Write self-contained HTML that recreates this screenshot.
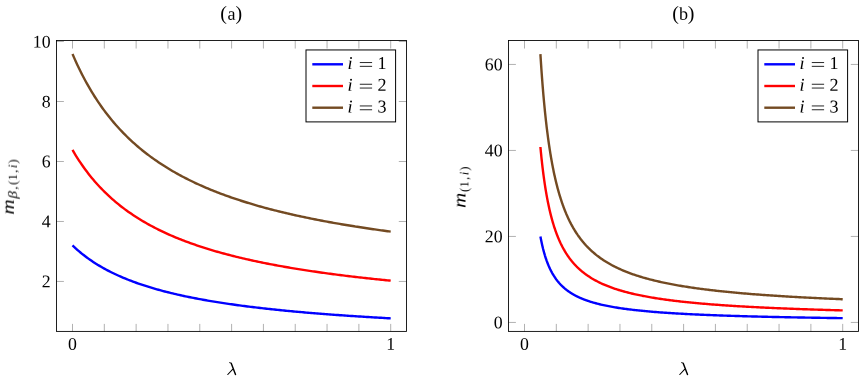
<!DOCTYPE html>
<html><head><meta charset="utf-8"><title>plot</title>
<style>
html,body{margin:0;padding:0;background:#fff;}
body{width:859px;height:381px;overflow:hidden;}
svg{display:block;}
.t{font-family:"Liberation Serif",serif;font-size:18.1px;fill:#000;text-rendering:geometricPrecision;}
.d{font-size:17.8px;}
.p{font-size:20px;}
.i{font-style:italic;}
.s{font-size:12.7px;}
</style></head><body>
<svg width="859" height="381" viewBox="0 0 859 381">
<rect width="100%" height="100%" fill="#fff"/>
<g opacity="0.999">
<path d="M72.50,331.40v-7.5 M72.50,40.45v8.1 M104.32,331.40v-7.5 M104.32,40.45v8.1 M136.14,331.40v-7.5 M136.14,40.45v8.1 M167.96,331.40v-7.5 M167.96,40.45v8.1 M199.78,331.40v-7.5 M199.78,40.45v8.1 M231.60,331.40v-7.5 M231.60,40.45v8.1 M263.42,331.40v-7.5 M263.42,40.45v8.1 M295.24,331.40v-7.5 M295.24,40.45v8.1 M327.06,331.40v-7.5 M327.06,40.45v8.1 M358.88,331.40v-7.5 M358.88,40.45v8.1 M390.70,331.40v-7.5 M390.70,40.45v8.1 M56.50,281.45h7.4 M406.50,281.45h-7.7 M56.50,221.47h7.4 M406.50,221.47h-7.7 M56.50,161.49h7.4 M406.50,161.49h-7.7 M56.50,101.51h7.4 M406.50,101.51h-7.7 M56.50,41.53h7.4 M406.50,41.53h-7.7 " stroke="#808080" stroke-width="0.62" fill="none"/>
<rect x="56.50" y="40.45" width="350.00" height="290.95" fill="none" stroke="#000" stroke-width="0.88"/>
<text x="72.50" y="349.7" class="t d" text-anchor="middle" transform="rotate(0.03 72.50 349.7)">0</text>
<text x="390.70" y="349.7" class="t d" text-anchor="middle" transform="rotate(0.03 390.70 349.7)">1</text>
<text x="50.60" y="287.35" class="t d" text-anchor="end" transform="rotate(0.03 50.60 287.35)">2</text>
<text x="50.60" y="227.37" class="t d" text-anchor="end" transform="rotate(0.03 50.60 227.37)">4</text>
<text x="50.60" y="167.39" class="t d" text-anchor="end" transform="rotate(0.03 50.60 167.39)">6</text>
<text x="50.60" y="107.41" class="t d" text-anchor="end" transform="rotate(0.03 50.60 107.41)">8</text>
<text x="50.60" y="47.43" class="t d" text-anchor="end" transform="rotate(0.03 50.60 47.43)">10</text>
<g transform="translate(0.00,0)" fill="none" stroke="#000" stroke-linecap="round"><path d="M229.5,362.5 Q230.7,362.1 231.3,363.5" stroke-width="0.8"/><path d="M231.2,363.3 L235.5,374.5" stroke-width="1.45"/><path d="M232.6,369.3 L227.8,374.5" stroke-width="1.1"/></g>
<path d="M72.50,245.44 L74.09,246.94 L75.68,248.40 L77.27,249.81 L78.86,251.18 L80.45,252.51 L82.05,253.81 L83.64,255.06 L85.23,256.28 L86.82,257.47 L88.41,258.62 L90.00,259.74 L91.59,260.83 L93.18,261.89 L94.77,262.93 L96.36,263.94 L97.96,264.92 L99.55,265.88 L101.14,266.81 L102.73,267.72 L104.32,268.61 L105.91,269.48 L107.50,270.33 L109.09,271.15 L110.68,271.96 L112.28,272.75 L113.87,273.52 L115.46,274.28 L117.05,275.02 L118.64,275.74 L120.23,276.44 L121.82,277.14 L123.41,277.81 L125.00,278.48 L126.59,279.12 L128.19,279.76 L129.78,280.38 L131.37,280.99 L132.96,281.59 L134.55,282.18 L136.14,282.75 L137.73,283.32 L139.32,283.87 L140.91,284.41 L142.50,284.94 L144.09,285.47 L145.69,285.98 L147.28,286.48 L148.87,286.98 L150.46,287.46 L152.05,287.94 L153.64,288.41 L155.23,288.87 L156.82,289.32 L158.41,289.77 L160.00,290.20 L161.60,290.63 L163.19,291.06 L164.78,291.47 L166.37,291.88 L167.96,292.28 L169.55,292.68 L171.14,293.07 L172.73,293.45 L174.32,293.83 L175.92,294.20 L177.51,294.56 L179.10,294.92 L180.69,295.28 L182.28,295.63 L183.87,295.97 L185.46,296.31 L187.05,296.64 L188.64,296.97 L190.23,297.29 L191.82,297.61 L193.42,297.93 L195.01,298.24 L196.60,298.54 L198.19,298.84 L199.78,299.14 L201.37,299.43 L202.96,299.72 L204.55,300.01 L206.14,300.29 L207.73,300.56 L209.33,300.84 L210.92,301.11 L212.51,301.37 L214.10,301.64 L215.69,301.90 L217.28,302.15 L218.87,302.40 L220.46,302.65 L222.05,302.90 L223.65,303.14 L225.24,303.38 L226.83,303.62 L228.42,303.85 L230.01,304.08 L231.60,304.31 L233.19,304.54 L234.78,304.76 L236.37,304.98 L237.96,305.20 L239.56,305.41 L241.15,305.62 L242.74,305.83 L244.33,306.04 L245.92,306.24 L247.51,306.45 L249.10,306.65 L250.69,306.85 L252.28,307.04 L253.87,307.23 L255.47,307.43 L257.06,307.61 L258.65,307.80 L260.24,307.99 L261.83,308.17 L263.42,308.35 L265.01,308.53 L266.60,308.71 L268.19,308.88 L269.78,309.05 L271.38,309.22 L272.97,309.39 L274.56,309.56 L276.15,309.73 L277.74,309.89 L279.33,310.05 L280.92,310.22 L282.51,310.37 L284.10,310.53 L285.69,310.69 L287.28,310.84 L288.88,310.99 L290.47,311.15 L292.06,311.30 L293.65,311.44 L295.24,311.59 L296.83,311.74 L298.42,311.88 L300.01,312.02 L301.60,312.16 L303.19,312.30 L304.79,312.44 L306.38,312.58 L307.97,312.71 L309.56,312.85 L311.15,312.98 L312.74,313.11 L314.33,313.25 L315.92,313.38 L317.51,313.50 L319.11,313.63 L320.70,313.76 L322.29,313.88 L323.88,314.01 L325.47,314.13 L327.06,314.25 L328.65,314.37 L330.24,314.49 L331.83,314.61 L333.42,314.73 L335.01,314.84 L336.61,314.96 L338.20,315.07 L339.79,315.18 L341.38,315.30 L342.97,315.41 L344.56,315.52 L346.15,315.63 L347.74,315.74 L349.33,315.84 L350.93,315.95 L352.52,316.06 L354.11,316.16 L355.70,316.26 L357.29,316.37 L358.88,316.47 L360.47,316.57 L362.06,316.67 L363.65,316.77 L365.24,316.87 L366.83,316.97 L368.43,317.07 L370.02,317.16 L371.61,317.26 L373.20,317.35 L374.79,317.45 L376.38,317.54 L377.97,317.64 L379.56,317.73 L381.15,317.82 L382.75,317.91 L384.34,318.00 L385.93,318.09 L387.52,318.18 L389.11,318.27 L390.70,318.35" stroke="#0000ff" stroke-width="2.4" fill="none" stroke-linejoin="round"/>
<path d="M72.50,149.93 L74.09,152.64 L75.68,155.27 L77.27,157.82 L78.86,160.28 L80.45,162.68 L82.05,165.01 L83.64,167.27 L85.23,169.46 L86.82,171.59 L88.41,173.67 L90.00,175.68 L91.59,177.65 L93.18,179.56 L94.77,181.42 L96.36,183.23 L97.96,185.00 L99.55,186.72 L101.14,188.40 L102.73,190.03 L104.32,191.63 L105.91,193.19 L107.50,194.71 L109.09,196.20 L110.68,197.65 L112.28,199.07 L113.87,200.45 L115.46,201.81 L117.05,203.13 L118.64,204.43 L120.23,205.70 L121.82,206.94 L123.41,208.15 L125.00,209.34 L126.59,210.51 L128.19,211.65 L129.78,212.76 L131.37,213.86 L132.96,214.93 L134.55,215.98 L136.14,217.01 L137.73,218.02 L139.32,219.01 L140.91,219.99 L142.50,220.94 L144.09,221.88 L145.69,222.80 L147.28,223.70 L148.87,224.59 L150.46,225.46 L152.05,226.31 L153.64,227.15 L155.23,227.97 L156.82,228.78 L158.41,229.58 L160.00,230.36 L161.60,231.13 L163.19,231.89 L164.78,232.63 L166.37,233.37 L167.96,234.09 L169.55,234.79 L171.14,235.49 L172.73,236.18 L174.32,236.85 L175.92,237.52 L177.51,238.17 L179.10,238.81 L180.69,239.45 L182.28,240.07 L183.87,240.69 L185.46,241.29 L187.05,241.89 L188.64,242.48 L190.23,243.06 L191.82,243.63 L193.42,244.19 L195.01,244.74 L196.60,245.29 L198.19,245.83 L199.78,246.36 L201.37,246.88 L202.96,247.40 L204.55,247.91 L206.14,248.41 L207.73,248.91 L209.33,249.39 L210.92,249.88 L212.51,250.35 L214.10,250.82 L215.69,251.29 L217.28,251.74 L218.87,252.19 L220.46,252.64 L222.05,253.08 L223.65,253.51 L225.24,253.94 L226.83,254.37 L228.42,254.78 L230.01,255.20 L231.60,255.60 L233.19,256.01 L234.78,256.41 L236.37,256.80 L237.96,257.19 L239.56,257.57 L241.15,257.95 L242.74,258.32 L244.33,258.69 L245.92,259.06 L247.51,259.42 L249.10,259.78 L250.69,260.13 L252.28,260.48 L253.87,260.83 L255.47,261.17 L257.06,261.51 L258.65,261.84 L260.24,262.17 L261.83,262.50 L263.42,262.82 L265.01,263.14 L266.60,263.46 L268.19,263.77 L269.78,264.08 L271.38,264.38 L272.97,264.69 L274.56,264.99 L276.15,265.28 L277.74,265.58 L279.33,265.87 L280.92,266.15 L282.51,266.44 L284.10,266.72 L285.69,267.00 L287.28,267.27 L288.88,267.55 L290.47,267.82 L292.06,268.08 L293.65,268.35 L295.24,268.61 L296.83,268.87 L298.42,269.13 L300.01,269.38 L301.60,269.63 L303.19,269.88 L304.79,270.13 L306.38,270.37 L307.97,270.62 L309.56,270.86 L311.15,271.09 L312.74,271.33 L314.33,271.56 L315.92,271.80 L317.51,272.02 L319.11,272.25 L320.70,272.48 L322.29,272.70 L323.88,272.92 L325.47,273.14 L327.06,273.36 L328.65,273.57 L330.24,273.78 L331.83,274.00 L333.42,274.21 L335.01,274.41 L336.61,274.62 L338.20,274.82 L339.79,275.02 L341.38,275.22 L342.97,275.42 L344.56,275.62 L346.15,275.82 L347.74,276.01 L349.33,276.20 L350.93,276.39 L352.52,276.58 L354.11,276.77 L355.70,276.95 L357.29,277.14 L358.88,277.32 L360.47,277.50 L362.06,277.68 L363.65,277.86 L365.24,278.03 L366.83,278.21 L368.43,278.38 L370.02,278.56 L371.61,278.73 L373.20,278.90 L374.79,279.07 L376.38,279.23 L377.97,279.40 L379.56,279.56 L381.15,279.73 L382.75,279.89 L384.34,280.05 L385.93,280.21 L387.52,280.37 L389.11,280.52 L390.70,280.68" stroke="#ff0000" stroke-width="2.4" fill="none" stroke-linejoin="round"/>
<path d="M72.50,53.94 L74.09,57.63 L75.68,61.20 L77.27,64.66 L78.86,68.02 L80.45,71.27 L82.05,74.44 L83.64,77.51 L85.23,80.49 L86.82,83.39 L88.41,86.21 L90.00,88.95 L91.59,91.61 L93.18,94.21 L94.77,96.74 L96.36,99.20 L97.96,101.60 L99.55,103.94 L101.14,106.22 L102.73,108.45 L104.32,110.62 L105.91,112.74 L107.50,114.81 L109.09,116.83 L110.68,118.80 L112.28,120.73 L113.87,122.61 L115.46,124.45 L117.05,126.25 L118.64,128.01 L120.23,129.74 L121.82,131.42 L123.41,133.07 L125.00,134.69 L126.59,136.27 L128.19,137.82 L129.78,139.34 L131.37,140.83 L132.96,142.28 L134.55,143.71 L136.14,145.11 L137.73,146.49 L139.32,147.83 L140.91,149.16 L142.50,150.45 L144.09,151.72 L145.69,152.97 L147.28,154.20 L148.87,155.40 L150.46,156.59 L152.05,157.75 L153.64,158.89 L155.23,160.01 L156.82,161.11 L158.41,162.19 L160.00,163.26 L161.60,164.30 L163.19,165.33 L164.78,166.34 L166.37,167.34 L167.96,168.31 L169.55,169.28 L171.14,170.22 L172.73,171.16 L174.32,172.07 L175.92,172.97 L177.51,173.86 L179.10,174.74 L180.69,175.60 L182.28,176.45 L183.87,177.28 L185.46,178.11 L187.05,178.92 L188.64,179.71 L190.23,180.50 L191.82,181.28 L193.42,182.04 L195.01,182.79 L196.60,183.54 L198.19,184.27 L199.78,184.99 L201.37,185.70 L202.96,186.40 L204.55,187.09 L206.14,187.78 L207.73,188.45 L209.33,189.11 L210.92,189.77 L212.51,190.42 L214.10,191.05 L215.69,191.68 L217.28,192.30 L218.87,192.92 L220.46,193.52 L222.05,194.12 L223.65,194.71 L225.24,195.29 L226.83,195.87 L228.42,196.44 L230.01,197.00 L231.60,197.55 L233.19,198.10 L234.78,198.64 L236.37,199.17 L237.96,199.70 L239.56,200.22 L241.15,200.74 L242.74,201.25 L244.33,201.75 L245.92,202.25 L247.51,202.74 L249.10,203.22 L250.69,203.70 L252.28,204.18 L253.87,204.65 L255.47,205.11 L257.06,205.57 L258.65,206.03 L260.24,206.47 L261.83,206.92 L263.42,207.36 L265.01,207.79 L266.60,208.22 L268.19,208.64 L269.78,209.06 L271.38,209.48 L272.97,209.89 L274.56,210.30 L276.15,210.70 L277.74,211.10 L279.33,211.49 L280.92,211.88 L282.51,212.27 L284.10,212.65 L285.69,213.03 L287.28,213.40 L288.88,213.78 L290.47,214.14 L292.06,214.51 L293.65,214.87 L295.24,215.22 L296.83,215.57 L298.42,215.92 L300.01,216.27 L301.60,216.61 L303.19,216.95 L304.79,217.29 L306.38,217.62 L307.97,217.95 L309.56,218.27 L311.15,218.60 L312.74,218.92 L314.33,219.24 L315.92,219.55 L317.51,219.86 L319.11,220.17 L320.70,220.48 L322.29,220.78 L323.88,221.08 L325.47,221.38 L327.06,221.67 L328.65,221.96 L330.24,222.25 L331.83,222.54 L333.42,222.82 L335.01,223.11 L336.61,223.38 L338.20,223.66 L339.79,223.94 L341.38,224.21 L342.97,224.48 L344.56,224.75 L346.15,225.01 L347.74,225.27 L349.33,225.54 L350.93,225.79 L352.52,226.05 L354.11,226.30 L355.70,226.56 L357.29,226.81 L358.88,227.05 L360.47,227.30 L362.06,227.54 L363.65,227.79 L365.24,228.03 L366.83,228.26 L368.43,228.50 L370.02,228.73 L371.61,228.97 L373.20,229.20 L374.79,229.43 L376.38,229.65 L377.97,229.88 L379.56,230.10 L381.15,230.32 L382.75,230.54 L384.34,230.76 L385.93,230.98 L387.52,231.19 L389.11,231.41 L390.70,231.62" stroke="#734a22" stroke-width="2.4" fill="none" stroke-linejoin="round"/>
<rect x="306.00" y="49.95" width="89.60" height="71.95" fill="#fff" stroke="#000" stroke-width="1.0"/>
<path d="M312.30,64.30H343.00" stroke="#0000ff" stroke-width="2.4"/>
<text x="347.60" y="69.00" class="t" transform="rotate(0.03 347.60 69.00)"><tspan class="i">i</tspan><tspan x="377.50">1</tspan></text>
<path d="M359.80,62.55h12.3 M359.80,66.35h12.3" stroke="#000" stroke-width="0.85"/>
<path d="M312.30,86.00H343.00" stroke="#ff0000" stroke-width="2.4"/>
<text x="347.60" y="90.70" class="t" transform="rotate(0.03 347.60 90.70)"><tspan class="i">i</tspan><tspan x="377.50">2</tspan></text>
<path d="M359.80,84.25h12.3 M359.80,88.05h12.3" stroke="#000" stroke-width="0.85"/>
<path d="M312.30,107.70H343.00" stroke="#734a22" stroke-width="2.4"/>
<text x="347.60" y="112.40" class="t" transform="rotate(0.03 347.60 112.40)"><tspan class="i">i</tspan><tspan x="377.50">3</tspan></text>
<path d="M359.80,105.95h12.3 M359.80,109.75h12.3" stroke="#000" stroke-width="0.85"/>
<g transform="rotate(0.03 231.50 19.7)"><text x="220.30" y="19.7" class="t p">(</text><text x="231.50" y="19.7" class="t" text-anchor="middle">a</text><text x="242.10" y="19.7" class="t p" text-anchor="end">)</text></g>
<g transform="translate(13.9,214.6) rotate(-90)"><text x="0" y="0" class="t i" transform="scale(1.17,1)">m</text><text x="19.90" y="2.90" class="t s i" text-anchor="middle" transform="translate(19.90,0) scale(1.2,1) translate(-19.90,0)">β</text><text x="26.60" y="2.90" class="t s" text-anchor="middle">,</text><text x="31.90" y="2.90" class="t s" text-anchor="middle">(</text><text x="37.30" y="2.90" class="t s" text-anchor="middle">1</text><text x="43.40" y="2.90" class="t s" text-anchor="middle">,</text><text x="48.20" y="2.90" class="t s i" text-anchor="middle">i</text><text x="53.10" y="2.90" class="t s" text-anchor="middle">)</text></g>
<path d="M524.50,331.40v-7.5 M524.50,40.45v8.1 M556.32,331.40v-7.5 M556.32,40.45v8.1 M588.14,331.40v-7.5 M588.14,40.45v8.1 M619.96,331.40v-7.5 M619.96,40.45v8.1 M651.78,331.40v-7.5 M651.78,40.45v8.1 M683.60,331.40v-7.5 M683.60,40.45v8.1 M715.42,331.40v-7.5 M715.42,40.45v8.1 M747.24,331.40v-7.5 M747.24,40.45v8.1 M779.06,331.40v-7.5 M779.06,40.45v8.1 M810.88,331.40v-7.5 M810.88,40.45v8.1 M842.70,331.40v-7.5 M842.70,40.45v8.1 M508.50,322.45h7.4 M858.50,322.45h-7.7 M508.50,236.45h7.4 M858.50,236.45h-7.7 M508.50,150.45h7.4 M858.50,150.45h-7.7 M508.50,64.45h7.4 M858.50,64.45h-7.7 " stroke="#808080" stroke-width="0.62" fill="none"/>
<rect x="508.50" y="40.45" width="350.00" height="290.95" fill="none" stroke="#000" stroke-width="0.88"/>
<text x="524.50" y="349.7" class="t d" text-anchor="middle" transform="rotate(0.03 524.50 349.7)">0</text>
<text x="842.70" y="349.7" class="t d" text-anchor="middle" transform="rotate(0.03 842.70 349.7)">1</text>
<text x="502.60" y="328.35" class="t d" text-anchor="end" transform="rotate(0.03 502.60 328.35)">0</text>
<text x="502.60" y="242.35" class="t d" text-anchor="end" transform="rotate(0.03 502.60 242.35)">20</text>
<text x="502.60" y="156.35" class="t d" text-anchor="end" transform="rotate(0.03 502.60 156.35)">40</text>
<text x="502.60" y="70.35" class="t d" text-anchor="end" transform="rotate(0.03 502.60 70.35)">60</text>
<g transform="translate(452.00,0)" fill="none" stroke="#000" stroke-linecap="round"><path d="M229.5,362.5 Q230.7,362.1 231.3,363.5" stroke-width="0.8"/><path d="M231.2,363.3 L235.5,374.5" stroke-width="1.45"/><path d="M232.6,369.3 L227.8,374.5" stroke-width="1.1"/></g>
<path d="M540.41,236.45 L540.57,237.30 L540.73,238.14 L540.89,238.95 L541.05,239.76 L541.21,240.55 L541.36,241.32 L541.52,242.08 L541.68,242.82 L541.84,243.55 L542.00,244.27 L542.16,244.97 L542.32,245.66 L542.48,246.34 L542.64,247.01 L542.80,247.67 L542.96,248.31 L543.11,248.95 L543.27,249.57 L543.43,250.18 L543.59,250.78 L543.75,251.38 L543.91,251.96 L544.07,252.53 L544.23,253.10 L544.39,253.65 L544.55,254.20 L544.71,254.73 L544.86,255.26 L545.02,255.78 L545.18,256.30 L545.34,256.80 L545.50,257.30 L545.66,257.79 L545.82,258.27 L545.98,258.75 L546.14,259.21 L546.30,259.68 L546.46,260.13 L546.61,260.58 L546.77,261.02 L546.93,261.46 L547.09,261.89 L547.25,262.31 L547.41,262.73 L547.57,263.14 L547.73,263.55 L547.89,263.95 L548.05,264.34 L548.21,264.73 L548.37,265.12 L548.52,265.50 L548.68,265.87 L548.84,266.24 L549.00,266.61 L549.16,266.97 L549.32,267.32 L549.48,267.67 L549.64,268.02 L549.80,268.36 L549.96,268.70 L550.12,269.03 L550.27,269.36 L550.43,269.69 L550.59,270.01 L550.75,270.33 L550.91,270.64 L551.07,270.95 L551.23,271.26 L551.39,271.56 L551.55,271.86 L551.71,272.16 L551.87,272.45 L552.02,272.74 L552.18,273.02 L552.34,273.31 L552.50,273.59 L552.66,273.86 L552.82,274.14 L552.98,274.41 L553.14,274.67 L553.30,274.94 L553.46,275.20 L553.62,275.46 L553.77,275.71 L553.93,275.96 L554.09,276.21 L554.25,276.46 L554.41,276.71 L554.57,276.95 L554.73,277.19 L554.89,277.42 L555.05,277.66 L555.21,277.89 L555.37,278.12 L555.52,278.35 L555.68,278.57 L555.84,278.80 L556.00,279.02 L556.16,279.23 L556.32,279.45 L556.48,279.66 L556.64,279.88 L556.80,280.09 L556.96,280.29 L557.12,280.50 L557.27,280.70 L557.43,280.90 L557.59,281.10 L557.75,281.30 L557.91,281.50 L558.07,281.69 L558.23,281.88 L558.39,282.07 L558.55,282.26 L558.71,282.45 L558.87,282.64 L559.02,282.82 L559.18,283.00 L559.34,283.18 L559.50,283.36 L559.66,283.54 L559.82,283.71 L559.98,283.88 L560.14,284.06 L560.30,284.23 L560.46,284.40 L560.62,284.56 L560.77,284.73 L560.93,284.90 L561.09,285.06 L561.25,285.22 L561.41,285.38 L561.57,285.54 L561.73,285.70 L561.89,285.85 L562.05,286.01 L562.21,286.16 L562.37,286.32 L562.52,286.47 L562.68,286.62 L562.84,286.77 L563.00,286.91 L563.16,287.06 L563.32,287.20 L563.48,287.35 L563.64,287.49 L563.80,287.63 L563.96,287.77 L564.12,287.91 L564.27,288.05 L564.43,288.19 L564.59,288.32 L564.75,288.46 L564.91,288.59 L565.07,288.72 L565.23,288.86 L565.39,288.99 L565.55,289.12 L565.71,289.25 L565.87,289.37 L566.03,289.50 L566.18,289.63 L566.34,289.75 L566.50,289.87 L566.66,290.00 L566.82,290.12 L566.98,290.24 L567.14,290.36 L567.30,290.48 L567.46,290.60 L567.62,290.72 L567.78,290.83 L567.93,290.95 L568.09,291.06 L568.25,291.18 L568.41,291.29 L568.57,291.40 L568.73,291.51 L568.89,291.63 L569.05,291.74 L569.21,291.85 L569.37,291.95 L569.53,292.06 L569.68,292.17 L569.84,292.27 L570.00,292.38 L570.16,292.48 L570.32,292.59 L570.48,292.69 L570.64,292.79 L570.80,292.90 L570.96,293.00 L571.12,293.10 L571.28,293.20 L571.43,293.30 L571.59,293.40 L571.75,293.49 L571.91,293.59 L572.07,293.69 L572.23,293.78 L572.39,293.88 L572.55,293.97 L572.71,294.07 L572.87,294.16 L573.03,294.25 L573.18,294.35 L573.34,294.44 L573.50,294.53 L573.66,294.62 L573.82,294.71 L573.98,294.80 L574.14,294.89 L574.30,294.97 L574.46,295.06 L574.62,295.15 L574.78,295.23 L574.93,295.32 L575.09,295.41 L575.25,295.49 L575.41,295.57 L575.57,295.66 L575.73,295.74 L575.89,295.82 L576.05,295.91 L576.21,295.99 L576.37,296.07 L576.53,296.15 L576.68,296.23 L576.84,296.31 L577.00,296.39 L577.16,296.47 L577.32,296.55 L577.48,296.62 L577.64,296.70 L577.80,296.78 L577.96,296.85 L578.12,296.93 L578.28,297.01 L578.43,297.08 L578.59,297.16 L578.75,297.23 L578.91,297.30 L579.07,297.38 L579.23,297.45 L579.39,297.52 L579.55,297.59 L579.71,297.67 L579.87,297.74 L580.03,297.81 L580.19,297.88 L580.34,297.95 L580.50,298.02 L580.66,298.09 L580.82,298.16 L580.98,298.22 L581.14,298.29 L581.30,298.36 L581.46,298.43 L581.62,298.49 L581.78,298.56 L581.94,298.63 L582.09,298.69 L582.25,298.76 L582.41,298.82 L582.57,298.89 L582.73,298.95 L582.89,299.02 L583.05,299.08 L583.21,299.14 L583.37,299.21 L583.53,299.27 L583.69,299.33 L583.84,299.39 L584.00,299.46 L584.16,299.52 L584.32,299.58 L584.48,299.64 L584.64,299.70 L584.80,299.76 L584.96,299.82 L585.12,299.88 L585.28,299.94 L585.44,300.00 L585.59,300.05 L585.75,300.11 L585.91,300.17 L586.07,300.23 L586.23,300.29 L586.39,300.34 L586.55,300.40 L586.71,300.46 L586.87,300.51 L587.03,300.57 L587.19,300.62 L587.34,300.68 L587.50,300.73 L587.66,300.79 L587.82,300.84 L587.98,300.90 L588.14,300.95 L589.42,301.37 L590.70,301.78 L591.98,302.17 L593.26,302.55 L594.54,302.91 L595.82,303.26 L597.09,303.60 L598.37,303.93 L599.65,304.24 L600.93,304.55 L602.21,304.84 L603.49,305.13 L604.77,305.40 L606.05,305.67 L607.33,305.93 L608.61,306.18 L609.89,306.43 L611.17,306.66 L612.44,306.89 L613.72,307.11 L615.00,307.33 L616.28,307.54 L617.56,307.75 L618.84,307.95 L620.12,308.14 L621.40,308.33 L622.68,308.51 L623.96,308.69 L625.24,308.87 L626.52,309.04 L627.80,309.20 L629.07,309.37 L630.35,309.52 L631.63,309.68 L632.91,309.83 L634.19,309.98 L635.47,310.12 L636.75,310.26 L638.03,310.40 L639.31,310.53 L640.59,310.66 L641.87,310.79 L643.15,310.92 L644.42,311.04 L645.70,311.16 L646.98,311.28 L648.26,311.39 L649.54,311.51 L650.82,311.62 L652.10,311.73 L653.38,311.83 L654.66,311.94 L655.94,312.04 L657.22,312.14 L658.50,312.24 L659.77,312.34 L661.05,312.43 L662.33,312.52 L663.61,312.61 L664.89,312.70 L666.17,312.79 L667.45,312.88 L668.73,312.96 L670.01,313.05 L671.29,313.13 L672.57,313.21 L673.85,313.29 L675.13,313.37 L676.40,313.44 L677.68,313.52 L678.96,313.59 L680.24,313.66 L681.52,313.74 L682.80,313.81 L684.08,313.88 L685.36,313.94 L686.64,314.01 L687.92,314.08 L689.20,314.14 L690.48,314.21 L691.75,314.27 L693.03,314.33 L694.31,314.39 L695.59,314.45 L696.87,314.51 L698.15,314.57 L699.43,314.63 L700.71,314.69 L701.99,314.74 L703.27,314.80 L704.55,314.85 L705.83,314.90 L707.11,314.96 L708.38,315.01 L709.66,315.06 L710.94,315.11 L712.22,315.16 L713.50,315.21 L714.78,315.26 L716.06,315.31 L717.34,315.35 L718.62,315.40 L719.90,315.45 L721.18,315.49 L722.46,315.54 L723.73,315.58 L725.01,315.63 L726.29,315.67 L727.57,315.71 L728.85,315.75 L730.13,315.80 L731.41,315.84 L732.69,315.88 L733.97,315.92 L735.25,315.96 L736.53,316.00 L737.81,316.04 L739.09,316.07 L740.36,316.11 L741.64,316.15 L742.92,316.19 L744.20,316.22 L745.48,316.26 L746.76,316.29 L748.04,316.33 L749.32,316.36 L750.60,316.40 L751.88,316.43 L753.16,316.47 L754.44,316.50 L755.71,316.53 L756.99,316.56 L758.27,316.60 L759.55,316.63 L760.83,316.66 L762.11,316.69 L763.39,316.72 L764.67,316.75 L765.95,316.78 L767.23,316.81 L768.51,316.84 L769.79,316.87 L771.07,316.90 L772.34,316.93 L773.62,316.96 L774.90,316.99 L776.18,317.01 L777.46,317.04 L778.74,317.07 L780.02,317.10 L781.30,317.12 L782.58,317.15 L783.86,317.17 L785.14,317.20 L786.42,317.23 L787.69,317.25 L788.97,317.28 L790.25,317.30 L791.53,317.33 L792.81,317.35 L794.09,317.37 L795.37,317.40 L796.65,317.42 L797.93,317.45 L799.21,317.47 L800.49,317.49 L801.77,317.52 L803.04,317.54 L804.32,317.56 L805.60,317.58 L806.88,317.60 L808.16,317.63 L809.44,317.65 L810.72,317.67 L812.00,317.69 L813.28,317.71 L814.56,317.73 L815.84,317.75 L817.12,317.77 L818.40,317.79 L819.67,317.81 L820.95,317.83 L822.23,317.85 L823.51,317.87 L824.79,317.89 L826.07,317.91 L827.35,317.93 L828.63,317.95 L829.91,317.97 L831.19,317.99 L832.47,318.01 L833.75,318.03 L835.02,318.04 L836.30,318.06 L837.58,318.08 L838.86,318.10 L840.14,318.12 L841.42,318.13 L842.70,318.15" stroke="#0000ff" stroke-width="2.4" fill="none" stroke-linejoin="round"/>
<path d="M540.41,147.01 L540.57,148.71 L540.73,150.38 L540.89,152.02 L541.05,153.63 L541.21,155.20 L541.36,156.75 L541.52,158.26 L541.68,159.75 L541.84,161.21 L542.00,162.65 L542.16,164.06 L542.32,165.44 L542.48,166.80 L542.64,168.13 L542.80,169.44 L542.96,170.73 L543.11,172.00 L543.27,173.25 L543.43,174.47 L543.59,175.68 L543.75,176.86 L543.91,178.03 L544.07,179.17 L544.23,180.30 L544.39,181.41 L544.55,182.50 L544.71,183.58 L544.86,184.64 L545.02,185.68 L545.18,186.70 L545.34,187.71 L545.50,188.71 L545.66,189.69 L545.82,190.65 L545.98,191.60 L546.14,192.54 L546.30,193.46 L546.46,194.37 L546.61,195.27 L546.77,196.15 L546.93,197.02 L547.09,197.88 L547.25,198.73 L547.41,199.57 L547.57,200.39 L547.73,201.20 L547.89,202.00 L548.05,202.79 L548.21,203.57 L548.37,204.34 L548.52,205.10 L548.68,205.85 L548.84,206.59 L549.00,207.32 L549.16,208.04 L549.32,208.75 L549.48,209.46 L549.64,210.15 L549.80,210.83 L549.96,211.51 L550.12,212.18 L550.27,212.84 L550.43,213.49 L550.59,214.13 L550.75,214.77 L550.91,215.40 L551.07,216.02 L551.23,216.63 L551.39,217.23 L551.55,217.83 L551.71,218.43 L551.87,219.01 L552.02,219.59 L552.18,220.16 L552.34,220.72 L552.50,221.28 L552.66,221.83 L552.82,222.38 L552.98,222.92 L553.14,223.45 L553.30,223.98 L553.46,224.50 L553.62,225.02 L553.77,225.53 L553.93,226.04 L554.09,226.54 L554.25,227.03 L554.41,227.52 L554.57,228.00 L554.73,228.48 L554.89,228.96 L555.05,229.43 L555.21,229.89 L555.37,230.35 L555.52,230.80 L555.68,231.25 L555.84,231.70 L556.00,232.14 L556.16,232.58 L556.32,233.01 L556.48,233.44 L556.64,233.86 L556.80,234.28 L556.96,234.70 L557.12,235.11 L557.27,235.51 L557.43,235.92 L557.59,236.32 L557.75,236.71 L557.91,237.11 L558.07,237.49 L558.23,237.88 L558.39,238.26 L558.55,238.64 L558.71,239.01 L558.87,239.38 L559.02,239.75 L559.18,240.11 L559.34,240.47 L559.50,240.83 L559.66,241.18 L559.82,241.53 L559.98,241.88 L560.14,242.22 L560.30,242.57 L560.46,242.90 L560.62,243.24 L560.77,243.57 L560.93,243.90 L561.09,244.23 L561.25,244.55 L561.41,244.87 L561.57,245.19 L561.73,245.51 L561.89,245.82 L562.05,246.13 L562.21,246.44 L562.37,246.74 L562.52,247.04 L562.68,247.34 L562.84,247.64 L563.00,247.94 L563.16,248.23 L563.32,248.52 L563.48,248.81 L563.64,249.09 L563.80,249.37 L563.96,249.66 L564.12,249.93 L564.27,250.21 L564.43,250.48 L564.59,250.76 L564.75,251.03 L564.91,251.29 L565.07,251.56 L565.23,251.82 L565.39,252.08 L565.55,252.34 L565.71,252.60 L565.87,252.86 L566.03,253.11 L566.18,253.36 L566.34,253.61 L566.50,253.86 L566.66,254.10 L566.82,254.35 L566.98,254.59 L567.14,254.83 L567.30,255.07 L567.46,255.31 L567.62,255.54 L567.78,255.77 L567.93,256.01 L568.09,256.24 L568.25,256.46 L568.41,256.69 L568.57,256.92 L568.73,257.14 L568.89,257.36 L569.05,257.58 L569.21,257.80 L569.37,258.02 L569.53,258.23 L569.68,258.45 L569.84,258.66 L570.00,258.87 L570.16,259.08 L570.32,259.29 L570.48,259.49 L570.64,259.70 L570.80,259.90 L570.96,260.11 L571.12,260.31 L571.28,260.51 L571.43,260.70 L571.59,260.90 L571.75,261.10 L571.91,261.29 L572.07,261.48 L572.23,261.68 L572.39,261.87 L572.55,262.06 L572.71,262.24 L572.87,262.43 L573.03,262.62 L573.18,262.80 L573.34,262.98 L573.50,263.17 L573.66,263.35 L573.82,263.53 L573.98,263.70 L574.14,263.88 L574.30,264.06 L574.46,264.23 L574.62,264.41 L574.78,264.58 L574.93,264.75 L575.09,264.92 L575.25,265.09 L575.41,265.26 L575.57,265.43 L575.73,265.59 L575.89,265.76 L576.05,265.92 L576.21,266.09 L576.37,266.25 L576.53,266.41 L576.68,266.57 L576.84,266.73 L577.00,266.89 L577.16,267.05 L577.32,267.20 L577.48,267.36 L577.64,267.51 L577.80,267.67 L577.96,267.82 L578.12,267.97 L578.28,268.12 L578.43,268.27 L578.59,268.42 L578.75,268.57 L578.91,268.72 L579.07,268.86 L579.23,269.01 L579.39,269.15 L579.55,269.30 L579.71,269.44 L579.87,269.58 L580.03,269.73 L580.19,269.87 L580.34,270.01 L580.50,270.15 L580.66,270.28 L580.82,270.42 L580.98,270.56 L581.14,270.70 L581.30,270.83 L581.46,270.97 L581.62,271.10 L581.78,271.23 L581.94,271.36 L582.09,271.50 L582.25,271.63 L582.41,271.76 L582.57,271.89 L582.73,272.02 L582.89,272.14 L583.05,272.27 L583.21,272.40 L583.37,272.52 L583.53,272.65 L583.69,272.77 L583.84,272.90 L584.00,273.02 L584.16,273.14 L584.32,273.27 L584.48,273.39 L584.64,273.51 L584.80,273.63 L584.96,273.75 L585.12,273.87 L585.28,273.98 L585.44,274.10 L585.59,274.22 L585.75,274.33 L585.91,274.45 L586.07,274.57 L586.23,274.68 L586.39,274.79 L586.55,274.91 L586.71,275.02 L586.87,275.13 L587.03,275.24 L587.19,275.36 L587.34,275.47 L587.50,275.58 L587.66,275.69 L587.82,275.79 L587.98,275.90 L588.14,276.01 L589.42,276.86 L590.70,277.67 L591.98,278.46 L593.26,279.21 L594.54,279.94 L595.82,280.64 L597.09,281.31 L598.37,281.97 L599.65,282.60 L600.93,283.21 L602.21,283.80 L603.49,284.37 L604.77,284.92 L606.05,285.45 L607.33,285.97 L608.61,286.47 L609.89,286.96 L611.17,287.43 L612.44,287.89 L613.72,288.34 L615.00,288.77 L616.28,289.19 L617.56,289.60 L618.84,290.00 L620.12,290.39 L621.40,290.77 L622.68,291.14 L623.96,291.50 L625.24,291.84 L626.52,292.19 L627.80,292.52 L629.07,292.84 L630.35,293.16 L631.63,293.47 L632.91,293.77 L634.19,294.06 L635.47,294.35 L636.75,294.63 L638.03,294.91 L639.31,295.17 L640.59,295.44 L641.87,295.69 L643.15,295.95 L644.42,296.19 L645.70,296.43 L646.98,296.67 L648.26,296.90 L649.54,297.13 L650.82,297.35 L652.10,297.56 L653.38,297.78 L654.66,297.99 L655.94,298.19 L657.22,298.39 L658.50,298.59 L659.77,298.78 L661.05,298.97 L662.33,299.16 L663.61,299.34 L664.89,299.52 L666.17,299.69 L667.45,299.87 L668.73,300.04 L670.01,300.20 L671.29,300.37 L672.57,300.53 L673.85,300.69 L675.13,300.84 L676.40,301.00 L677.68,301.15 L678.96,301.29 L680.24,301.44 L681.52,301.58 L682.80,301.72 L684.08,301.86 L685.36,302.00 L686.64,302.13 L687.92,302.26 L689.20,302.39 L690.48,302.52 L691.75,302.65 L693.03,302.77 L694.31,302.90 L695.59,303.02 L696.87,303.13 L698.15,303.25 L699.43,303.37 L700.71,303.48 L701.99,303.59 L703.27,303.70 L704.55,303.81 L705.83,303.92 L707.11,304.02 L708.38,304.13 L709.66,304.23 L710.94,304.33 L712.22,304.43 L713.50,304.53 L714.78,304.63 L716.06,304.72 L717.34,304.82 L718.62,304.91 L719.90,305.01 L721.18,305.10 L722.46,305.19 L723.73,305.27 L725.01,305.36 L726.29,305.45 L727.57,305.53 L728.85,305.62 L730.13,305.70 L731.41,305.78 L732.69,305.87 L733.97,305.95 L735.25,306.03 L736.53,306.10 L737.81,306.18 L739.09,306.26 L740.36,306.33 L741.64,306.41 L742.92,306.48 L744.20,306.55 L745.48,306.63 L746.76,306.70 L748.04,306.77 L749.32,306.84 L750.60,306.91 L751.88,306.97 L753.16,307.04 L754.44,307.11 L755.71,307.17 L756.99,307.24 L758.27,307.30 L759.55,307.37 L760.83,307.43 L762.11,307.49 L763.39,307.55 L764.67,307.62 L765.95,307.68 L767.23,307.74 L768.51,307.80 L769.79,307.85 L771.07,307.91 L772.34,307.97 L773.62,308.03 L774.90,308.08 L776.18,308.14 L777.46,308.19 L778.74,308.25 L780.02,308.30 L781.30,308.35 L782.58,308.41 L783.86,308.46 L785.14,308.51 L786.42,308.56 L787.69,308.61 L788.97,308.66 L790.25,308.71 L791.53,308.76 L792.81,308.81 L794.09,308.86 L795.37,308.91 L796.65,308.95 L797.93,309.00 L799.21,309.05 L800.49,309.09 L801.77,309.14 L803.04,309.19 L804.32,309.23 L805.60,309.28 L806.88,309.32 L808.16,309.36 L809.44,309.41 L810.72,309.45 L812.00,309.49 L813.28,309.53 L814.56,309.58 L815.84,309.62 L817.12,309.66 L818.40,309.70 L819.67,309.74 L820.95,309.78 L822.23,309.82 L823.51,309.86 L824.79,309.90 L826.07,309.94 L827.35,309.97 L828.63,310.01 L829.91,310.05 L831.19,310.09 L832.47,310.12 L833.75,310.16 L835.02,310.20 L836.30,310.23 L837.58,310.27 L838.86,310.31 L840.14,310.34 L841.42,310.38 L842.70,310.41" stroke="#ff0000" stroke-width="2.4" fill="none" stroke-linejoin="round"/>
<path d="M540.41,54.13 L540.57,56.68 L540.73,59.19 L540.89,61.64 L541.05,64.05 L541.21,66.42 L541.36,68.73 L541.52,71.01 L541.68,73.24 L541.84,75.43 L542.00,77.58 L542.16,79.70 L542.32,81.77 L542.48,83.81 L542.64,85.81 L542.80,87.78 L542.96,89.72 L543.11,91.62 L543.27,93.49 L543.43,95.32 L543.59,97.13 L543.75,98.91 L543.91,100.65 L544.07,102.37 L544.23,104.07 L544.39,105.73 L544.55,107.37 L544.71,108.98 L544.86,110.57 L545.02,112.13 L545.18,113.67 L545.34,115.18 L545.50,116.68 L545.66,118.15 L545.82,119.59 L545.98,121.02 L546.14,122.42 L546.30,123.81 L546.46,125.17 L546.61,126.52 L546.77,127.84 L546.93,129.15 L547.09,130.44 L547.25,131.71 L547.41,132.96 L547.57,134.20 L547.73,135.42 L547.89,136.62 L548.05,137.81 L548.21,138.98 L548.37,140.13 L548.52,141.27 L548.68,142.39 L548.84,143.50 L549.00,144.60 L549.16,145.68 L549.32,146.75 L549.48,147.80 L549.64,148.84 L549.80,149.87 L549.96,150.88 L550.12,151.88 L550.27,152.87 L550.43,153.85 L550.59,154.81 L550.75,155.77 L550.91,156.71 L551.07,157.64 L551.23,158.56 L551.39,159.47 L551.55,160.37 L551.71,161.25 L551.87,162.13 L552.02,163.00 L552.18,163.85 L552.34,164.70 L552.50,165.54 L552.66,166.37 L552.82,167.19 L552.98,168.00 L553.14,168.80 L553.30,169.59 L553.46,170.37 L553.62,171.15 L553.77,171.91 L553.93,172.67 L554.09,173.42 L554.25,174.16 L554.41,174.90 L554.57,175.62 L554.73,176.34 L554.89,177.05 L555.05,177.75 L555.21,178.45 L555.37,179.14 L555.52,179.82 L555.68,180.50 L555.84,181.17 L556.00,181.83 L556.16,182.48 L556.32,183.13 L556.48,183.77 L556.64,184.41 L556.80,185.04 L556.96,185.66 L557.12,186.28 L557.27,186.89 L557.43,187.49 L557.59,188.09 L557.75,188.69 L557.91,189.27 L558.07,189.86 L558.23,190.43 L558.39,191.00 L558.55,191.57 L558.71,192.13 L558.87,192.69 L559.02,193.24 L559.18,193.78 L559.34,194.32 L559.50,194.86 L559.66,195.39 L559.82,195.91 L559.98,196.43 L560.14,196.95 L560.30,197.46 L560.46,197.97 L560.62,198.47 L560.77,198.97 L560.93,199.47 L561.09,199.96 L561.25,200.44 L561.41,200.92 L561.57,201.40 L561.73,201.87 L561.89,202.34 L562.05,202.81 L562.21,203.27 L562.37,203.73 L562.52,204.18 L562.68,204.63 L562.84,205.08 L563.00,205.52 L563.16,205.96 L563.32,206.39 L563.48,206.82 L563.64,207.25 L563.80,207.68 L563.96,208.10 L564.12,208.52 L564.27,208.93 L564.43,209.34 L564.59,209.75 L564.75,210.15 L564.91,210.56 L565.07,210.95 L565.23,211.35 L565.39,211.74 L565.55,212.13 L565.71,212.52 L565.87,212.90 L566.03,213.28 L566.18,213.66 L566.34,214.03 L566.50,214.40 L566.66,214.77 L566.82,215.14 L566.98,215.50 L567.14,215.86 L567.30,216.22 L567.46,216.57 L567.62,216.93 L567.78,217.28 L567.93,217.62 L568.09,217.97 L568.25,218.31 L568.41,218.65 L568.57,218.99 L568.73,219.32 L568.89,219.66 L569.05,219.99 L569.21,220.32 L569.37,220.64 L569.53,220.96 L569.68,221.28 L569.84,221.60 L570.00,221.92 L570.16,222.23 L570.32,222.55 L570.48,222.86 L570.64,223.16 L570.80,223.47 L570.96,223.77 L571.12,224.08 L571.28,224.37 L571.43,224.67 L571.59,224.97 L571.75,225.26 L571.91,225.55 L572.07,225.84 L572.23,226.13 L572.39,226.42 L572.55,226.70 L572.71,226.98 L572.87,227.26 L573.03,227.54 L573.18,227.82 L573.34,228.09 L573.50,228.36 L573.66,228.63 L573.82,228.90 L573.98,229.17 L574.14,229.44 L574.30,229.70 L574.46,229.96 L574.62,230.23 L574.78,230.48 L574.93,230.74 L575.09,231.00 L575.25,231.25 L575.41,231.50 L575.57,231.76 L575.73,232.01 L575.89,232.25 L576.05,232.50 L576.21,232.75 L576.37,232.99 L576.53,233.23 L576.68,233.47 L576.84,233.71 L577.00,233.95 L577.16,234.18 L577.32,234.42 L577.48,234.65 L577.64,234.88 L577.80,235.12 L577.96,235.34 L578.12,235.57 L578.28,235.80 L578.43,236.02 L578.59,236.25 L578.75,236.47 L578.91,236.69 L579.07,236.91 L579.23,237.13 L579.39,237.35 L579.55,237.56 L579.71,237.78 L579.87,237.99 L580.03,238.20 L580.19,238.42 L580.34,238.63 L580.50,238.83 L580.66,239.04 L580.82,239.25 L580.98,239.45 L581.14,239.66 L581.30,239.86 L581.46,240.06 L581.62,240.26 L581.78,240.46 L581.94,240.66 L582.09,240.86 L582.25,241.06 L582.41,241.25 L582.57,241.45 L582.73,241.64 L582.89,241.83 L583.05,242.02 L583.21,242.21 L583.37,242.40 L583.53,242.59 L583.69,242.78 L583.84,242.96 L584.00,243.15 L584.16,243.33 L584.32,243.51 L584.48,243.69 L584.64,243.88 L584.80,244.06 L584.96,244.24 L585.12,244.41 L585.28,244.59 L585.44,244.77 L585.59,244.94 L585.75,245.12 L585.91,245.29 L586.07,245.46 L586.23,245.64 L586.39,245.81 L586.55,245.98 L586.71,246.15 L586.87,246.31 L587.03,246.48 L587.19,246.65 L587.34,246.81 L587.50,246.98 L587.66,247.14 L587.82,247.31 L587.98,247.47 L588.14,247.63 L589.42,248.90 L590.70,250.12 L591.98,251.30 L593.26,252.43 L594.54,253.52 L595.82,254.57 L597.09,255.59 L598.37,256.57 L599.65,257.51 L600.93,258.42 L602.21,259.31 L603.49,260.16 L604.77,260.99 L606.05,261.79 L607.33,262.57 L608.61,263.33 L609.89,264.06 L611.17,264.77 L612.44,265.46 L613.72,266.12 L615.00,266.77 L616.28,267.41 L617.56,268.02 L618.84,268.62 L620.12,269.20 L621.40,269.77 L622.68,270.32 L623.96,270.86 L625.24,271.38 L626.52,271.89 L627.80,272.39 L629.07,272.88 L630.35,273.35 L631.63,273.82 L632.91,274.27 L634.19,274.71 L635.47,275.14 L636.75,275.56 L638.03,275.97 L639.31,276.38 L640.59,276.77 L641.87,277.16 L643.15,277.53 L644.42,277.90 L645.70,278.26 L646.98,278.62 L648.26,278.96 L649.54,279.30 L650.82,279.64 L652.10,279.96 L653.38,280.28 L654.66,280.59 L655.94,280.90 L657.22,281.20 L658.50,281.50 L659.77,281.79 L661.05,282.07 L662.33,282.35 L663.61,282.62 L664.89,282.89 L666.17,283.16 L667.45,283.42 L668.73,283.67 L670.01,283.92 L671.29,284.17 L672.57,284.41 L673.85,284.64 L675.13,284.88 L676.40,285.11 L677.68,285.33 L678.96,285.56 L680.24,285.77 L681.52,285.99 L682.80,286.20 L684.08,286.41 L685.36,286.61 L686.64,286.81 L687.92,287.01 L689.20,287.21 L690.48,287.40 L691.75,287.59 L693.03,287.77 L694.31,287.96 L695.59,288.14 L696.87,288.32 L698.15,288.49 L699.43,288.66 L700.71,288.84 L701.99,289.00 L703.27,289.17 L704.55,289.33 L705.83,289.49 L707.11,289.65 L708.38,289.81 L709.66,289.96 L710.94,290.11 L712.22,290.26 L713.50,290.41 L714.78,290.56 L716.06,290.70 L717.34,290.84 L718.62,290.98 L719.90,291.12 L721.18,291.26 L722.46,291.39 L723.73,291.53 L725.01,291.66 L726.29,291.79 L727.57,291.92 L728.85,292.04 L730.13,292.17 L731.41,292.29 L732.69,292.41 L733.97,292.53 L735.25,292.65 L736.53,292.77 L737.81,292.89 L739.09,293.00 L740.36,293.11 L741.64,293.23 L742.92,293.34 L744.20,293.45 L745.48,293.55 L746.76,293.66 L748.04,293.77 L749.32,293.87 L750.60,293.98 L751.88,294.08 L753.16,294.18 L754.44,294.28 L755.71,294.38 L756.99,294.47 L758.27,294.57 L759.55,294.67 L760.83,294.76 L762.11,294.85 L763.39,294.95 L764.67,295.04 L765.95,295.13 L767.23,295.22 L768.51,295.31 L769.79,295.40 L771.07,295.48 L772.34,295.57 L773.62,295.65 L774.90,295.74 L776.18,295.82 L777.46,295.90 L778.74,295.98 L780.02,296.07 L781.30,296.15 L782.58,296.22 L783.86,296.30 L785.14,296.38 L786.42,296.46 L787.69,296.53 L788.97,296.61 L790.25,296.68 L791.53,296.76 L792.81,296.83 L794.09,296.90 L795.37,296.98 L796.65,297.05 L797.93,297.12 L799.21,297.19 L800.49,297.26 L801.77,297.33 L803.04,297.39 L804.32,297.46 L805.60,297.53 L806.88,297.59 L808.16,297.66 L809.44,297.72 L810.72,297.79 L812.00,297.85 L813.28,297.92 L814.56,297.98 L815.84,298.04 L817.12,298.10 L818.40,298.16 L819.67,298.22 L820.95,298.28 L822.23,298.34 L823.51,298.40 L824.79,298.46 L826.07,298.52 L827.35,298.58 L828.63,298.63 L829.91,298.69 L831.19,298.75 L832.47,298.80 L833.75,298.86 L835.02,298.91 L836.30,298.97 L837.58,299.02 L838.86,299.07 L840.14,299.13 L841.42,299.18 L842.70,299.23" stroke="#734a22" stroke-width="2.4" fill="none" stroke-linejoin="round"/>
<rect x="758.00" y="49.95" width="89.60" height="71.95" fill="#fff" stroke="#000" stroke-width="1.0"/>
<path d="M764.30,64.30H795.00" stroke="#0000ff" stroke-width="2.4"/>
<text x="799.60" y="69.00" class="t" transform="rotate(0.03 799.60 69.00)"><tspan class="i">i</tspan><tspan x="829.50">1</tspan></text>
<path d="M811.80,62.55h12.3 M811.80,66.35h12.3" stroke="#000" stroke-width="0.85"/>
<path d="M764.30,86.00H795.00" stroke="#ff0000" stroke-width="2.4"/>
<text x="799.60" y="90.70" class="t" transform="rotate(0.03 799.60 90.70)"><tspan class="i">i</tspan><tspan x="829.50">2</tspan></text>
<path d="M811.80,84.25h12.3 M811.80,88.05h12.3" stroke="#000" stroke-width="0.85"/>
<path d="M764.30,107.70H795.00" stroke="#734a22" stroke-width="2.4"/>
<text x="799.60" y="112.40" class="t" transform="rotate(0.03 799.60 112.40)"><tspan class="i">i</tspan><tspan x="829.50">3</tspan></text>
<path d="M811.80,105.95h12.3 M811.80,109.75h12.3" stroke="#000" stroke-width="0.85"/>
<g transform="rotate(0.03 683.50 19.7)"><text x="672.20" y="19.7" class="t p">(</text><text x="683.50" y="19.7" class="t" text-anchor="middle">b</text><text x="694.50" y="19.7" class="t p" text-anchor="end">)</text></g>
<g transform="translate(465.5,208.0) rotate(-90)"><text x="0" y="0" class="t i" transform="scale(1.17,1)">m</text><text x="18.15" y="3.00" class="t s" text-anchor="middle">(</text><text x="23.55" y="3.00" class="t s" text-anchor="middle">1</text><text x="29.65" y="3.00" class="t s" text-anchor="middle">,</text><text x="34.45" y="3.00" class="t s i" text-anchor="middle">i</text><text x="39.35" y="3.00" class="t s" text-anchor="middle">)</text></g>
</g>
</svg>
</body></html>
